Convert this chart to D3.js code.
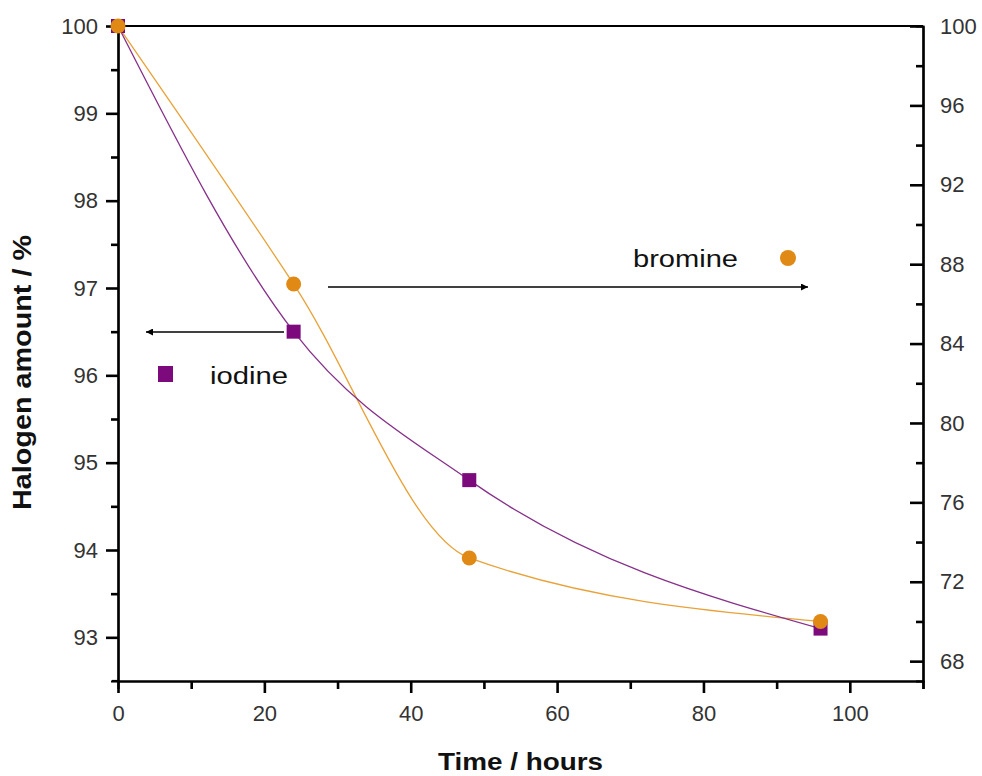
<!DOCTYPE html>
<html>
<head>
<meta charset="utf-8">
<script src="https://cdn.jsdelivr.net/npm/d3@7"></script>
<style>
  body { margin: 0; background: #fff; }
  svg { display: block; font-family: "Liberation Sans", Arial, sans-serif; }
  .tick text { font-size: 22px; fill: #333; }
</style>
</head>
<body>
<svg width="982" height="776"></svg>
<script>
// data
const hours = [0, 24, 48, 96];
const iodine = [100, 96.5, 94.8, 93.1];     // left axis
const bromine = [100, 87, 73.2, 70];       // right axis

const xMajor = [0, 20, 40, 60, 80, 100];
const xMinor = [10, 30, 50, 70, 90, 110];
const leftMajor = [93, 94, 95, 96, 97, 98, 99, 100];
const leftMinor = [93.5, 94.5, 95.5, 96.5, 97.5, 98.5, 99.5];
const rightMajor = [68, 72, 76, 80, 84, 88, 92, 96, 100];
const rightMinor = [70, 74, 78, 82, 86, 90, 94, 98];

const purple = '#7d0a7d', purpleLine = '#86308a';
const orange = '#e08914', orangeLine = '#e9a239';

const svg = d3.select('svg');

const x = d3.scaleLinear().domain([0, 110]).range([118, 923]);
const yL = d3.scaleLinear().domain([92.5, 100]).range([681, 26]);
const yR = d3.scaleLinear().domain([67, 100]).range([681, 26]);

// arrow head
svg.append('defs').append('marker')
  .attr('id', 'arr')
  .attr('viewBox', '0 0 10 10')
  .attr('refX', 10).attr('refY', 5)
  .attr('markerWidth', 9).attr('markerHeight', 7)
  .attr('markerUnits', 'userSpaceOnUse')
  .attr('orient', 'auto')
  .append('path').attr('d', 'M0,0 L10,5 L0,10 Z').attr('fill', '#000');

// minor ticks first, majors on top
svg.append('g').attr('transform', 'translate(118,0)')
  .call(d3.axisLeft(yL).tickValues(leftMinor).tickSize(7).tickFormat(''));
svg.append('g').attr('transform', 'translate(118,0)')
  .call(d3.axisLeft(yL).tickValues(leftMajor).tickSizeInner(12).tickSizeOuter(0).tickPadding(8));

svg.append('g').attr('transform', 'translate(0,681)')
  .call(d3.axisBottom(x).tickValues(xMinor).tickSize(8).tickFormat(''));
svg.append('g').attr('transform', 'translate(0,681)')
  .call(d3.axisBottom(x).tickValues(xMajor).tickSizeInner(12).tickSizeOuter(0).tickPadding(12));

svg.append('g').attr('transform', 'translate(923,0)')
  .call(d3.axisRight(yR).tickValues(rightMinor).tickSize(-7).tickFormat(''));
svg.append('g').attr('transform', 'translate(923,0)')
  .call(d3.axisRight(yR).tickValues(rightMajor).tickSizeInner(-13).tickSizeOuter(0).tickPadding(17));

svg.selectAll('.domain').attr('stroke', '#000').attr('stroke-width', 2.2);
svg.selectAll('.tick line').attr('stroke', '#000').attr('stroke-width', 2.6);

// top frame line
svg.append('line')
  .attr('x1', x(0)).attr('x2', x(110))
  .attr('y1', yL(100)).attr('y2', yL(100))
  .attr('stroke', '#000').attr('stroke-width', 2.2);
// small overhang of the bottom axis to the left
svg.append('line')
  .attr('x1', 112).attr('x2', 118).attr('y1', 681).attr('y2', 681)
  .attr('stroke', '#000').attr('stroke-width', 2.2);

// axis titles
svg.append('text')
  .attr('x', 438).attr('y', 770)
  .attr('textLength', 165).attr('lengthAdjust', 'spacingAndGlyphs')
  .style('font-size', '24px').style('font-weight', 'bold').attr('fill', '#111')
  .text('Time / hours');

svg.append('text')
  .attr('transform', 'translate(31,510) rotate(-90)')
  .attr('textLength', 275).attr('lengthAdjust', 'spacingAndGlyphs')
  .style('font-size', '25px').style('font-weight', 'bold').attr('fill', '#111')
  .text('Halogen amount / %');

// fitted curves
const lineL = d3.line().x(d => x(d[0])).y(d => yL(d[1])).curve(d3.curveMonotoneX);
const lineR = d3.line().x(d => x(d[0])).y(d => yR(d[1])).curve(d3.curveMonotoneX);

svg.append('path')
  .datum(d3.zip(hours, bromine))
  .attr('d', lineR)
  .attr('fill', 'none').attr('stroke', orangeLine).attr('stroke-width', 1.3);

svg.append('path')
  .datum(d3.zip(hours, iodine))
  .attr('d', lineL)
  .attr('fill', 'none').attr('stroke', purpleLine).attr('stroke-width', 1.3);

// markers
svg.selectAll('.sq')
  .data(d3.zip(hours, iodine))
  .enter()
  .append('rect')
  .classed('sq', true)
  .attr('x', d => x(d[0]) - 7)
  .attr('y', d => yL(d[1]) - 7)
  .attr('width', 14).attr('height', 14)
  .attr('fill', purple);

svg.selectAll('.dot')
  .data(d3.zip(hours, bromine))
  .enter()
  .append('circle')
  .classed('dot', true)
  .attr('cx', d => x(d[0]))
  .attr('cy', d => yR(d[1]))
  .attr('r', 7.5)
  .attr('fill', orange);

// annotations
svg.append('line')
  .attr('x1', 328).attr('x2', 808).attr('y1', 287).attr('y2', 287)
  .attr('stroke', '#000').attr('stroke-width', 1.3).attr('marker-end', 'url(#arr)');
svg.append('text')
  .attr('x', 633).attr('y', 267)
  .attr('textLength', 105).attr('lengthAdjust', 'spacingAndGlyphs')
  .style('font-size', '23px').attr('fill', '#111')
  .text('bromine');
svg.append('circle').attr('cx', 788).attr('cy', 258).attr('r', 8).attr('fill', orange);

svg.append('line')
  .attr('x1', 284).attr('x2', 146).attr('y1', 332).attr('y2', 332)
  .attr('stroke', '#000').attr('stroke-width', 1.3).attr('marker-end', 'url(#arr)');
svg.append('rect').attr('x', 158).attr('y', 366).attr('width', 15).attr('height', 16).attr('fill', purple);
svg.append('text')
  .attr('x', 210).attr('y', 384)
  .attr('textLength', 78).attr('lengthAdjust', 'spacingAndGlyphs')
  .style('font-size', '23px').attr('fill', '#111')
  .text('iodine');
</script>
</body>
</html>
